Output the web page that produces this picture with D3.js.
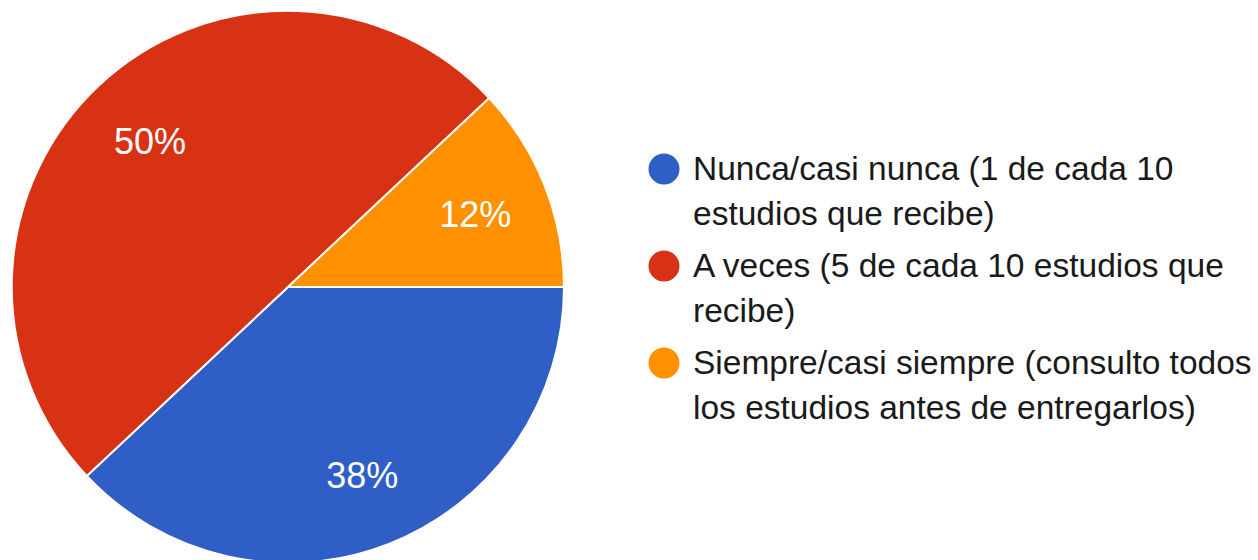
<!DOCTYPE html>
<html>
<head>
<meta charset="utf-8">
<script src="https://cdn.jsdelivr.net/npm/d3@7"></script>
<style>
  body { margin: 0; background: #fff; }
  svg { display: block; font-family: Arial, "Liberation Sans", Helvetica, sans-serif; }
</style>
</head>
<body>
<div id="chart"></div>
<script>
const width = 1258;
const height = 560;

// data
const categories = ['Nunca/casi nunca', 'A veces', 'Siempre/casi siempre'];
const values = [38, 50, 12];
const legendLines = [
    ['Nunca/casi nunca (1 de cada 10', 'estudios que recibe)'],
    ['A veces (5 de cada 10 estudios que', 'recibe)'],
    ['Siempre/casi siempre (consulto todos', 'los estudios antes de entregarlos)']
];
const colors = ['#2f5ec7', '#d83214', '#ff9000'];

const cx = 288, cy = 287, radius = 276;

const data = categories.map((c, i) => ({ name: c, value: values[i], color: colors[i], lines: legendLines[i] }));

const svg = d3.select('#chart')
    .append('svg')
    .attr('width', width)
    .attr('height', height);

// starts at 3 o'clock, goes clockwise
const pie = d3.pie()
    .sort(null)
    .value(d => d.value)
    .startAngle(Math.PI / 2)
    .endAngle(Math.PI / 2 + 2 * Math.PI);

const arc = d3.arc().innerRadius(0).outerRadius(radius);
const labelArc = d3.arc().innerRadius(radius * 0.73).outerRadius(radius * 0.73);

const g = svg.append('g').attr('transform', `translate(${cx},${cy})`);

const slices = g.selectAll('g.slice')
    .data(pie(data))
    .join('g')
    .attr('class', 'slice');

slices.append('path')
    .attr('d', arc)
    .attr('fill', d => d.data.color)
    .attr('stroke', '#fff')
    .attr('stroke-width', 2);

const total = d3.sum(values);
slices.append('text')
    .attr('transform', d => `translate(${labelArc.centroid(d)})`)
    .attr('text-anchor', 'middle')
    .attr('dy', '0.38em')
    .attr('fill', '#fff')
    .style('font-size', '36px')
    .text(d => Math.round(d.data.value / total * 100) + '%');

// legend
const legend = svg.append('g').attr('transform', 'translate(664,0)');

const items = legend.selectAll('g.item')
    .data(data)
    .join('g')
    .attr('class', 'item')
    .attr('transform', (d, i) => `translate(0,${169 + i * 97})`);

items.append('circle')
    .attr('r', 15.5)
    .attr('fill', d => d.color);

items.append('text')
    .attr('x', 29)
    .attr('y', 11)
    .attr('fill', '#1a1a1a')
    .style('font-size', '33.5px')
    .selectAll('tspan')
    .data(d => d.lines)
    .join('tspan')
    .attr('x', 29)
    .attr('dy', (d, i) => i === 0 ? 0 : 45)
    .text(d => d);
</script>
</body>
</html>
